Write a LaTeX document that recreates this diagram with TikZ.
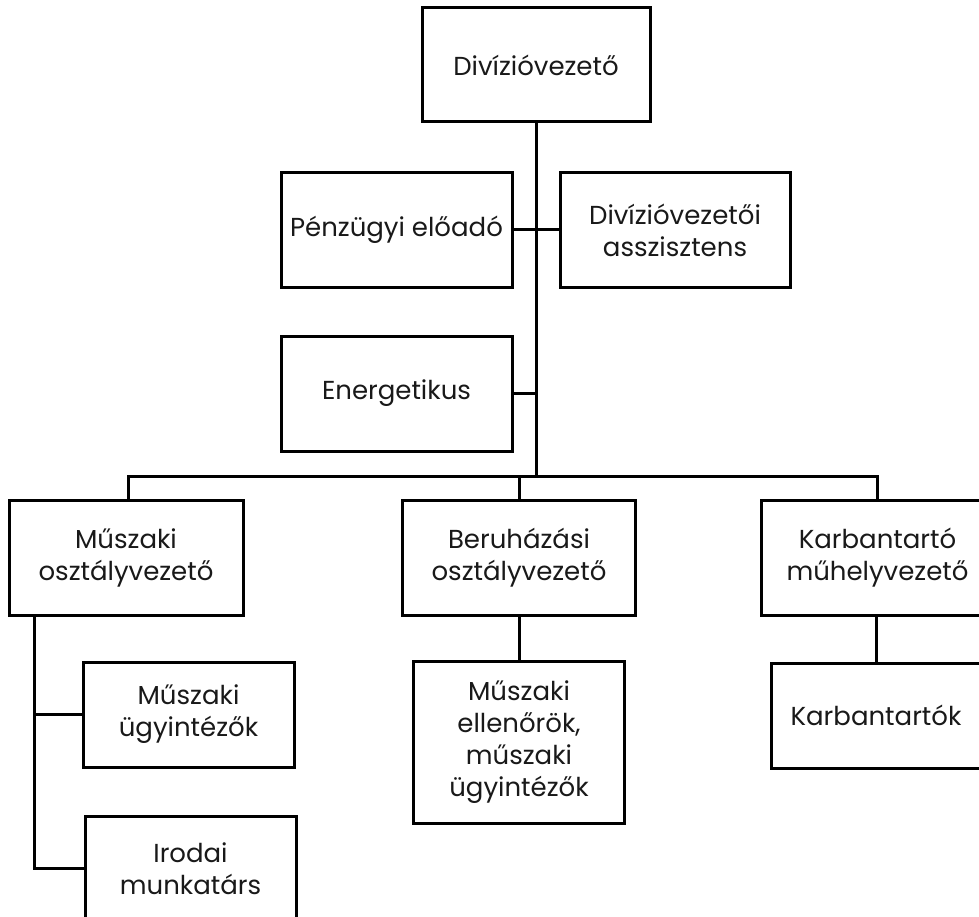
\documentclass[tikz,border=0pt]{standalone}
\usepackage{fontspec}
\setmainfont{Poppins}
\begin{document}
\begin{tikzpicture}[x=1pt,y=-1pt,
  box/.style={draw=black,line width=3pt,fill=white,align=center,text=black!90,
    font=\fontsize{26}{32}\selectfont,inner sep=0pt},
  conn/.style={draw=black,line width=3pt}]
\clip (0,0) rectangle (979,917);
\fill[white] (0,0) rectangle (979,917);
% nodes
\node[box,minimum width=228pt,minimum height=114pt] (top) at (536,65) {Divízióvezető};
\node[box,minimum width=231pt,minimum height=114pt] (pen) at (396.5,230) {Pénzügyi előadó};
\node[box,minimum width=230pt,minimum height=114pt] (asz) at (675,230) {Divízióvezetői\\asszisztens};
\node[box,minimum width=231pt,minimum height=115pt] (ene) at (396.5,393.5) {Energetikus};
\node[box,minimum width=234pt,minimum height=115pt] (m1) at (126,557.5) {Műszaki\\osztályvezető};
\node[box,minimum width=233pt,minimum height=115pt] (m2) at (519,557.5) {Beruházási\\osztályvezető};
\node[box,minimum width=233pt,minimum height=115pt] (m3) at (877.5,557.5) {Karbantartó\\műhelyvezető};
\node[box,minimum width=211pt,minimum height=105pt] (ugy) at (188.5,714.5) {Műszaki\\ügyintézők};
\node[box,minimum width=211pt,minimum height=105pt] (iro) at (190.5,868.5) {Irodai\\munkatárs};
\node[box,minimum width=211pt,minimum height=162pt] (ell) at (519,742) {Műszaki\\ellenőrök,\\műszaki\\ügyintézők};
\node[box,minimum width=210pt,minimum height=105pt] (kar) at (876,715.5) {Karbantartók};
% helper coordinates
\coordinate (busL) at (128,476);
\coordinate (busR) at (877,476);
\coordinate (trunkE) at (536,393.5);
\coordinate (trunkB) at (536,476);
\coordinate (leftTop) at (34,616);
% connectors
\draw[conn] (top.south) -- (trunkB);
\draw[conn] (pen.east) -- (asz.west);
\draw[conn] (ene.east) -- (trunkE);
\draw[conn,line join=miter] (m1.north -| busL) -- (busL) -- (busR) -- (m3.north -| busR);
\draw[conn] (trunkB -| m2.north) -- (m2.north);
\draw[conn] (m2.south) -- (ell.north);
\draw[conn] (m3.south -| kar.north) -- (kar.north);
\draw[conn,line join=miter] (leftTop) |- (iro.west);
\draw[conn] (leftTop |- ugy.west) -- (ugy.west);
\end{tikzpicture}
\end{document}
